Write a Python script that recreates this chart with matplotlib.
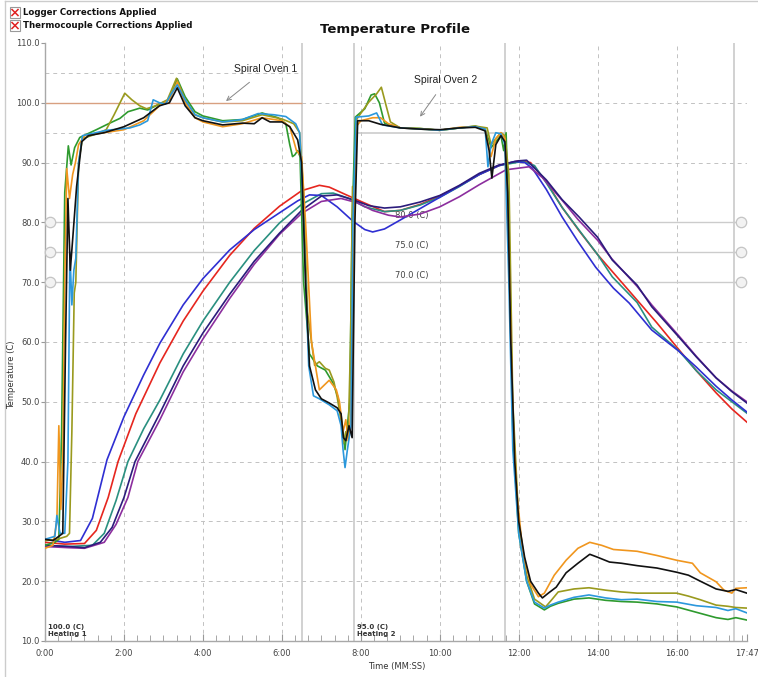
import matplotlib
matplotlib.use("Agg")
import matplotlib.pyplot as plt
from matplotlib.ticker import FuncFormatter, MultipleLocator
from matplotlib.patches import Rectangle
from matplotlib.lines import Line2D

plt.rcParams['font.family'] = ['DejaVu Sans']

# ---- air probes (time in minutes, temperature in C) ----
black_t = [0, 0.2, 0.35, 0.45, 0.52, 0.58, 0.64, 0.71, 0.8, 0.93, 1.1, 1.5, 2.0, 2.5, 2.9, 3.15, 3.35, 3.55, 3.8, 4.0,
           4.5, 5.0, 5.3, 5.5, 5.7, 6.0, 6.2, 6.4, 6.5, 6.6, 6.7, 6.85, 7.0, 7.2, 7.4, 7.5, 7.56, 7.62, 7.7, 7.78,
           7.85, 7.92, 8.2, 8.5, 9.0, 9.5, 10.0, 10.5, 10.9, 11.15, 11.25, 11.32, 11.42, 11.55, 11.65, 11.72, 11.8, 11.9, 12.0, 12.15,
           12.3, 12.5, 12.6, 12.75, 12.95, 13.2, 13.5, 13.8, 14.0, 14.3, 14.6, 15.0, 15.5, 16.0, 16.3, 16.6, 17.0, 17.3, 17.5, 17.78]
black_v = [27.0, 26.8, 27.5, 28.0, 60.0, 84.0, 72.0, 78.0, 86.0, 93.5, 94.5, 95.0, 96.0, 97.5, 99.5, 100.0, 102.5, 99.5, 97.5, 97.0,
           96.3, 96.6, 96.5, 97.5, 96.8, 96.8, 96.0, 93.8, 90.0, 70.0, 56.0, 52.0, 50.5, 49.8, 49.0, 48.0, 44.0, 43.5, 46.0, 44.0,
           80.0, 97.0, 97.0, 96.4, 95.8, 95.6, 95.5, 95.8, 95.9, 95.3, 92.0, 87.4, 93.0, 94.5, 93.5, 85.0, 60.0, 40.0, 30.0, 24.0,
           20.0, 18.0, 17.2, 18.0, 19.0, 21.4, 23.0, 24.5, 24.0, 23.2, 23.0, 22.6, 22.2, 21.5, 21.0, 20.0, 18.7, 18.3, 18.6, 18.0]

orange_t = [0, 0.2, 0.3, 0.35, 0.4, 0.45, 0.5, 0.55, 0.62, 0.7, 0.77, 0.85, 1.0, 1.5, 2.0, 2.5, 2.9, 3.15, 3.35, 3.55,
            3.8, 4.0, 4.5, 5.0, 5.5, 6.0, 6.2, 6.37, 6.5, 6.6, 6.75, 6.95, 7.2, 7.38, 7.46, 7.55, 7.62, 7.68, 7.75, 7.8,
            7.88, 8.0, 8.3, 8.5, 8.7, 9.0, 9.5, 10.0, 10.5, 10.9, 11.15, 11.3, 11.42, 11.55, 11.65, 11.75, 11.85, 11.95, 12.1, 12.3,
            12.5, 12.65, 12.9, 13.2, 13.5, 13.8, 14.1, 14.4, 15.0, 15.5, 16.0, 16.4, 16.6, 17.0, 17.2, 17.4, 17.5, 17.78]
orange_v = [25.5, 26.0, 30.0, 46.0, 32.0, 40.0, 70.0, 89.0, 84.0, 88.0, 90.0, 93.0, 94.5, 95.0, 95.5, 97.0, 99.5, 100.5, 103.5, 100.0,
            97.5, 96.8, 96.0, 96.5, 97.5, 97.0, 96.0, 92.0, 91.0, 80.0, 60.0, 52.0, 53.6, 52.0, 50.0, 45.0, 47.0, 43.5, 48.0, 70.0,
            96.0, 97.0, 97.5, 97.5, 96.5, 95.8, 95.6, 95.4, 95.9, 96.0, 95.5, 91.0, 94.0, 95.0, 94.0, 75.0, 48.0, 35.0, 25.0, 19.5,
            17.4, 18.0, 21.0, 23.5, 25.5, 26.5, 26.0, 25.3, 25.0, 24.3, 23.5, 23.0, 21.4, 19.9, 18.5, 18.0, 18.8, 18.9]

lblue_t = [0, 0.25, 0.3, 0.38, 0.5, 0.58, 0.63, 0.68, 0.73, 0.78, 0.85, 0.95, 1.56, 2.15, 2.4, 2.6, 2.74, 2.9, 3.05, 3.2,
           3.35, 3.55, 3.8, 4.0, 4.5, 5.0, 5.4, 5.8, 6.1, 6.35, 6.45, 6.55, 6.68, 6.8, 6.95, 7.2, 7.4, 7.5, 7.55, 7.6,
           7.66, 7.75, 7.8, 7.88, 8.2, 8.4, 8.55, 9.0, 9.5, 10.0, 10.5, 10.9, 11.15, 11.22, 11.3, 11.42, 11.55, 11.65, 11.75, 11.85,
           12.0, 12.2, 12.4, 12.65, 12.8, 13.0, 13.4, 13.78, 14.2, 14.6, 15.0, 15.5, 16.0, 16.5, 17.0, 17.3, 17.5, 17.78]
lblue_v = [27.0, 27.5, 31.0, 28.0, 28.0, 40.0, 75.0, 66.2, 72.0, 74.0, 90.0, 94.5, 95.4, 95.8, 96.3, 97.0, 100.5, 100.0, 99.8, 101.5,
           103.0, 100.5, 98.0, 97.5, 96.8, 97.2, 98.2, 98.0, 97.7, 96.5, 95.0, 80.0, 56.0, 51.0, 50.5, 49.5, 48.5, 46.0, 42.0, 39.0,
           42.0, 46.0, 80.0, 97.6, 97.8, 98.3, 96.3, 95.8, 95.6, 95.4, 95.8, 96.0, 95.6, 89.3, 93.0, 95.0, 94.8, 93.0, 70.0, 42.0,
           28.0, 20.0, 16.5, 15.5, 16.0, 16.5, 17.3, 17.7, 17.2, 16.9, 17.0, 16.6, 16.5, 15.9, 15.6, 15.1, 15.4, 14.7]

green_t = [0, 0.25, 0.35, 0.42, 0.5, 0.59, 0.66, 0.75, 0.88, 1.3, 1.64, 1.9, 2.1, 2.4, 2.6, 2.9, 3.15, 3.35, 3.55, 3.8,
           4.0, 4.5, 5.0, 5.5, 5.9, 6.1, 6.2, 6.27, 6.33, 6.4, 6.46, 6.55, 6.7, 6.9, 7.1, 7.3, 7.42, 7.5, 7.55, 7.6,
           7.66, 7.72, 7.78, 7.86, 8.1, 8.26, 8.35, 8.47, 8.6, 9.0, 9.5, 10.0, 10.5, 10.9, 11.15, 11.3, 11.42, 11.55, 11.62, 11.68,
           11.75, 11.85, 12.0, 12.2, 12.4, 12.65, 12.8, 13.0, 13.4, 13.78, 14.2, 14.6, 15.0, 15.5, 16.0, 16.5, 17.0, 17.3, 17.5, 17.78]
green_v = [26.0, 26.5, 27.0, 45.0, 85.0, 92.8, 89.6, 92.5, 94.2, 95.5, 96.6, 97.4, 98.5, 99.1, 98.8, 99.8, 100.5, 104.0, 101.0, 98.5,
           97.8, 97.0, 97.2, 98.3, 97.5, 96.5, 93.0, 91.0, 91.3, 92.0, 91.0, 70.0, 58.0, 56.0, 55.3, 53.1, 50.8, 47.0, 45.0, 42.0,
           46.0, 50.0, 80.0, 97.6, 99.0, 101.3, 101.5, 100.0, 96.6, 95.8, 95.7, 95.4, 95.8, 96.1, 95.6, 92.5, 93.5, 94.5, 92.0, 95.0,
           80.0, 45.0, 28.0, 20.0, 16.2, 15.2, 15.8, 16.3, 17.0, 17.2, 16.8, 16.6, 16.5, 16.2, 15.7, 14.8, 13.9, 13.6, 13.9, 13.5]

olive_t = [0, 0.3, 0.55, 0.62, 0.68, 0.74, 0.78, 0.85, 0.95, 1.3, 1.55, 1.75, 2.02, 2.2, 2.4, 2.57, 2.8, 3.1, 3.33, 3.55,
           3.8, 4.0, 4.5, 5.0, 5.5, 6.0, 6.3, 6.45, 6.55, 6.65, 6.83, 6.95, 7.1, 7.2, 7.32, 7.4, 7.5, 7.56, 7.62, 7.68,
           7.74, 7.79, 7.84, 7.9, 8.2, 8.4, 8.52, 8.65, 8.75, 9.0, 9.5, 10.0, 10.5, 10.9, 11.2, 11.3, 11.42, 11.55, 11.65, 11.75,
           11.85, 12.0, 12.2, 12.4, 12.68, 12.85, 13.0, 13.4, 13.78, 14.2, 14.6, 15.0, 15.5, 16.0, 16.3, 16.6, 17.0, 17.3, 17.5, 17.78]
olive_v = [26.8, 27.0, 27.5, 28.0, 45.0, 68.2, 70.0, 90.0, 94.0, 94.8, 95.5, 98.0, 101.6, 100.5, 99.5, 99.0, 99.5, 100.5, 104.1, 100.5,
           98.0, 97.5, 96.8, 97.0, 98.0, 97.3, 96.5, 95.0, 85.0, 65.0, 56.1, 56.7, 55.6, 55.3, 53.3, 50.8, 47.0, 43.0, 45.0, 44.0,
           60.0, 86.0, 82.0, 97.3, 100.1, 101.5, 102.6, 99.3, 96.8, 95.8, 95.7, 95.4, 95.8, 96.1, 95.8, 93.0, 94.0, 95.0, 94.5, 88.0,
           50.0, 30.0, 21.0, 17.0, 15.7, 17.0, 18.2, 18.7, 18.9, 18.5, 18.2, 18.0, 18.0, 18.0, 17.5, 16.9, 16.0, 15.8, 15.6, 15.5]

# ---- product core probes ----
bluep_t = [0, 0.5, 0.9, 1.2, 1.57, 2.0, 2.5, 2.91, 3.5, 4.0, 4.68, 5.3, 5.94, 6.4, 6.7, 7.0, 7.4, 7.8, 8.1, 8.3,
           8.6, 9.0, 9.5, 10.0, 10.5, 11.0, 11.5, 11.9, 12.15, 12.34, 12.7, 13.1, 13.5, 13.95, 14.4, 14.8, 15.37, 16.05, 16.5, 17.0,
           17.4, 17.78]
bluep_v = [27.0, 26.5, 26.8, 30.5, 40.3, 47.5, 54.5, 59.8, 66.2, 70.6, 75.4, 78.8, 81.6, 83.6, 84.6, 84.5, 82.6, 80.2, 78.8, 78.4,
           78.9, 80.4, 82.3, 84.2, 86.1, 88.0, 89.5, 90.2, 90.0, 89.1, 85.5, 80.9, 76.8, 72.5, 69.0, 66.5, 62.0, 58.5, 55.8, 52.6,
           50.3, 48.3]

red_t = [0, 0.5, 1.0, 1.3, 1.6, 1.85, 2.3, 2.91, 3.5, 4.0, 4.68, 5.3, 5.94, 6.5, 6.95, 7.2, 7.6, 8.04, 8.6, 9.0,
         9.5, 10.0, 10.5, 11.0, 11.5, 12.0, 12.3, 12.7, 13.1, 13.53, 14.0, 14.54, 15.0, 15.5, 16.06, 16.5, 17.0, 17.4, 17.78]
red_v = [26.5, 26.2, 26.3, 28.5, 34.0, 40.0, 48.0, 56.5, 63.5, 68.5, 74.5, 79.0, 82.7, 85.3, 86.2, 85.9, 84.7, 83.4, 81.8, 82.0,
         83.0, 84.4, 86.1, 88.0, 89.5, 90.3, 90.0, 86.8, 82.5, 78.6, 74.6, 70.5, 67.0, 63.2, 58.7, 55.2, 51.5, 48.8, 46.6]

teal_t = [0, 0.6, 1.2, 1.5, 1.8, 2.1, 2.5, 2.91, 3.5, 4.0, 4.68, 5.3, 5.94, 6.5, 7.0, 7.3, 7.7, 8.1, 8.6, 9.0,
          9.5, 10.0, 10.5, 11.0, 11.5, 12.1, 12.4, 12.7, 13.1, 13.53, 14.0, 14.37, 15.0, 15.37, 16.06, 16.5, 17.0, 17.4, 17.78]
teal_v = [26.0, 25.8, 26.0, 28.0, 33.5, 40.0, 45.5, 50.3, 58.0, 63.5, 70.0, 75.3, 79.9, 83.0, 84.8, 84.9, 84.0, 82.6, 81.8, 82.0,
          82.9, 84.2, 86.0, 88.0, 89.5, 90.2, 89.5, 86.6, 82.5, 78.7, 74.6, 70.9, 66.6, 62.5, 58.5, 55.2, 52.0, 50.0, 48.1]

navy_t = [0, 0.6, 1.0, 1.4, 1.7, 2.0, 2.28, 2.91, 3.5, 4.0, 4.68, 5.3, 5.94, 6.5, 7.0, 7.4, 7.8, 8.2, 8.6, 9.0,
          9.5, 10.0, 10.5, 11.0, 11.5, 12.0, 12.2, 12.7, 13.1, 13.53, 14.0, 14.37, 15.0, 15.37, 16.06, 16.5, 17.0, 17.4, 17.78]
navy_v = [26.0, 25.8, 25.6, 26.5, 29.0, 34.0, 40.0, 48.1, 56.0, 61.5, 68.0, 73.5, 78.2, 82.0, 84.4, 84.6, 83.8, 82.8, 82.4, 82.6,
          83.4, 84.5, 86.2, 88.2, 89.6, 90.3, 90.4, 87.1, 83.8, 80.9, 77.5, 73.7, 69.5, 65.9, 60.8, 57.5, 54.0, 51.7, 49.8]

purple_t = [0, 0.6, 1.0, 1.5, 1.8, 2.1, 2.35, 2.91, 3.5, 4.0, 4.68, 5.3, 5.94, 6.5, 7.0, 7.5, 7.9, 8.3, 8.7, 9.0,
            9.5, 10.0, 10.5, 11.0, 11.68, 12.26, 12.6, 13.1, 13.5, 14.0, 14.36, 15.0, 15.37, 16.06, 16.5, 17.0, 17.4, 17.78]
purple_v = [25.8, 25.6, 25.5, 26.5, 29.5, 34.0, 40.0, 47.0, 55.0, 60.5, 67.3, 73.0, 78.0, 81.5, 83.5, 84.0, 83.3, 82.0, 81.2, 80.9,
            81.4, 82.6, 84.3, 86.3, 88.8, 89.3, 87.5, 83.7, 80.5, 77.0, 73.9, 69.3, 66.2, 61.0, 57.6, 54.0, 51.8, 50.0]

# zones / reference lines
zone_starts = [0.0, 7.83]
zone_ends = [6.5, 11.65]
zone_setpoints = [100.0, 95.0]
zone_names = ['Heating 1', 'Heating 2']
zone_labels = ['Spiral Oven 1', 'Spiral Oven 2']
ref_levels = [80.0, 75.0, 70.0]
marker_times = [6.5, 7.83, 11.65, 17.45]
end_time = 17 + 47 / 60.0

fig = plt.figure(figsize=(7.58, 6.77), dpi=100)
ax = fig.add_axes([0.0594, 0.0532, 0.9261, 0.8833])
ax.set_xlim(0, end_time)
ax.set_ylim(10, 110)

grid_c = '#c2c2c2'
dash = (0, (4, 4))
# dashed grid
for gx in range(2, 17, 2):
    ax.axvline(gx, color=grid_c, lw=0.7, ls=dash, zorder=1)
for gy in range(20, 101, 10):
    ax.axhline(gy, color=grid_c, lw=0.7, ls=dash, zorder=1)
# tolerance band of heating 1
ax.hlines([105, 95], zone_starts[0], zone_ends[0], colors=grid_c, lw=0.7, linestyles=[dash], zorder=1)

# solid event markers
for mx in marker_times:
    ax.axvline(mx, color='#cacaca', lw=1.2, zorder=1)

# setpoints
ax.hlines(zone_setpoints[0], zone_starts[0], zone_ends[0], color='#d8a080', lw=1.0, zorder=2)
ax.hlines(zone_setpoints[1], zone_starts[1], zone_ends[1], color='#c8c8c8', lw=1.1, zorder=2)

# reference levels with end handles
for lv in ref_levels:
    ax.axhline(lv, color='#cccccc', lw=1.0, zorder=1)
    ax.plot([0.13, 17.62], [lv, lv], 'o', ms=7.5, mfc='#f2f2f2', mec='#c4c4c4', mew=0.9,
            clip_on=False, zorder=3)
    ax.text(9.3, lv + 0.4, f'{lv:.1f} (C)', fontsize=6, color='#444444', ha='center', va='bottom', zorder=4)

for st, sp, nm in zip(zone_starts, zone_setpoints, zone_names):
    ax.text(st + 0.07, 10.7, f'{sp:.1f} (C)\n{nm}', fontsize=5.0, fontweight='bold', color='#333333',
            ha='left', va='bottom', linespacing=1.1, zorder=4)

# product curves
product = [(red_t, red_v, '#e6261f'), (teal_t, teal_v, '#2a9080'), (bluep_t, bluep_v, '#2f2fd2'),
           (purple_t, purple_v, '#8c2e9e'), (navy_t, navy_v, '#2c1c7c')]
for t, v, c in product:
    ax.plot(t, v, color=c, lw=1.2, zorder=5)

# air curves
air = [(green_t, green_v, '#2e9a2e'), (olive_t, olive_v, '#9a9a1e'), (orange_t, orange_v, '#f0961e'),
       (lblue_t, lblue_v, '#2b98dc'), (black_t, black_v, '#111111')]
for t, v, c in air:
    ax.plot(t, v, color=c, lw=1.2, zorder=6)

# oven annotations
ax.annotate(zone_labels[0], xy=(4.53, 100.0), xytext=(5.59, 105.6), fontsize=7.5, family='Liberation Sans',
            color='#222222', ha='center', va='center',
            arrowprops=dict(arrowstyle='->', color='#888888', lw=0.7, shrinkA=6), zorder=7)
ax.annotate(zone_labels[1], xy=(9.46, 97.3), xytext=(10.16, 103.8), fontsize=7.5, family='Liberation Sans',
            color='#222222', ha='center', va='center',
            arrowprops=dict(arrowstyle='->', color='#888888', lw=0.7, shrinkA=6), zorder=7)

# axes styling
for s in ['top', 'right']:
    ax.spines[s].set_visible(False)
for s in ['left', 'bottom']:
    ax.spines[s].set_color('#a8a8a8')
    ax.spines[s].set_linewidth(1.0)

def mmss(x, pos):
    tot = int(round(x * 60))
    return f'{tot // 60}:{tot % 60:02d}'

ax.set_xticks(list(range(0, 17, 2)) + [end_time])
ax.xaxis.set_major_formatter(FuncFormatter(mmss))
ax.xaxis.set_minor_locator(MultipleLocator(1 / 3))
ax.tick_params(axis='x', which='both', direction='in', colors='#999999', labelcolor='#444444',
               labelsize=6, pad=6)
ax.tick_params(axis='x', which='major', length=5)
ax.tick_params(axis='x', which='minor', length=4)
ax.set_yticks(range(10, 111, 10))
ax.yaxis.set_major_formatter(FuncFormatter(lambda y, p: f'{y:.1f}'))
ax.tick_params(axis='y', direction='out', length=3, colors='#999999', labelcolor='#444444', labelsize=6, pad=1)

fig.text(397 / 758, 1 - 666 / 677, 'Time (MM:SS)', fontsize=6, color='#333333', ha='center', va='center')
fig.text(12 / 758, 1 - 375 / 677, 'Temperature (C)', fontsize=6, color='#333333', rotation=90,
         ha='center', va='center')
fig.text(395 / 758, 1 - 30 / 677, 'Temperature Profile', fontsize=9.5, fontweight='bold', color='#111111',
         ha='center', va='center')

# "corrections applied" check boxes
for i, label in enumerate(['Logger Corrections Applied', 'Thermocouple Corrections Applied']):
    yc = 1 - (12.5 + 13 * i) / 677
    fig.patches.append(Rectangle((10 / 758, yc - 5 / 677), 10 / 758, 10 / 677, transform=fig.transFigure,
                                 fill=False, ec='#999999', lw=0.8))
    for a, b in [((12, -3), (18, 3)), ((12, 3), (18, -3))]:
        fig.lines.append(Line2D([a[0] / 758, b[0] / 758], [yc + a[1] / 677, yc + b[1] / 677],
                                transform=fig.transFigure, color='#e02020', lw=1.1))
    fig.text(23 / 758, yc, label, fontsize=6.2, fontweight='bold', color='#111111', ha='left', va='center')

# outer frame
fig.lines.append(Line2D([5 / 758, 5 / 758], [0, 1 - 1 / 677], transform=fig.transFigure, color='#cccccc', lw=1))
fig.lines.append(Line2D([5 / 758, 1], [1 - 1 / 677, 1 - 1 / 677], transform=fig.transFigure, color='#cccccc', lw=1))

fig.savefig('out.png', dpi=100)
